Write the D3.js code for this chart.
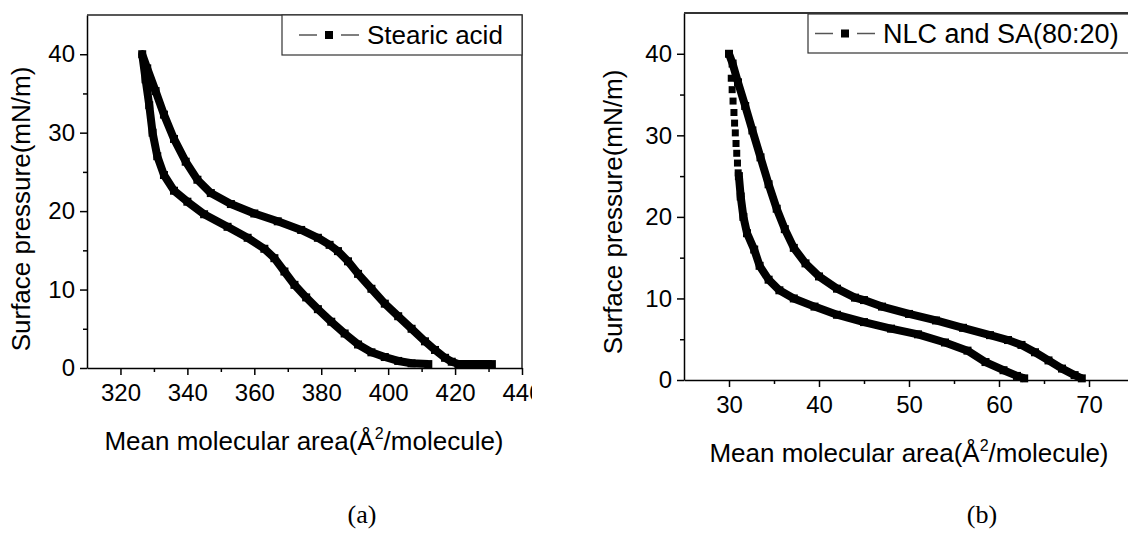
<!DOCTYPE html>
<html>
<head>
<meta charset="utf-8">
<script src="https://cdnjs.cloudflare.com/ajax/libs/d3/7.8.5/d3.min.js"></script>
<style>
  body { margin: 0; background: #fff; }
  svg { display: block; font-family: "Liberation Sans", Arial, sans-serif; }
</style>
</head>
<body>
<svg id="chart" width="1128" height="537"></svg>
<script>
// (a) stearic acid isotherm, one loop: flat start -> outer branch up -> inner branch down
var saArea = [431, 425, 421, 419, 417, 414, 411, 407, 403, 399, 395, 391, 388, 385, 382.5, 379, 374, 367, 360, 353, 347, 343, 339.5, 336, 333, 330.5, 328, 326.5,
              327.5, 328.6, 329.6, 331, 333, 336, 340, 345, 352, 358, 363, 366, 369, 372, 375.5, 379, 383, 387, 391, 395, 399, 403, 407, 412];
var saPi   = [0.5, 0.5, 0.5, 0.8, 1.3, 2.3, 3.4, 5.0, 6.6, 8.2, 10.1, 12.0, 13.6, 14.9, 15.7, 16.6, 17.6, 18.7, 19.7, 20.9, 22.3, 24.0, 26.3, 29.2, 32.3, 35.3, 38.2, 40.0,
              36.8, 33.5, 30.0, 27.0, 24.6, 22.6, 21.2, 19.6, 18.0, 16.6, 15.2, 14.0, 12.3, 10.6, 9.0, 7.5, 5.9, 4.4, 3.0, 2.0, 1.4, 0.9, 0.6, 0.5];

// (b) NLC and SA (80:20): outer branch, loose squares near the top, inner branch
var nlcOutArea = [69.2, 68.4, 67, 65.5, 64, 62.5, 61, 59, 56, 53, 50, 47, 45, 44, 42, 40, 38.5, 37.2, 36.2, 35.3, 34.4, 33.5, 32.6, 31.8, 31, 30.4, 30.0];
var nlcOutPi   = [0.2, 0.6, 1.4, 2.4, 3.4, 4.3, 4.9, 5.5, 6.4, 7.3, 8.1, 9.0, 9.8, 10.1, 11.2, 12.7, 14.3, 16.2, 18.5, 21.0, 24.0, 27.3, 30.6, 33.6, 36.5, 38.8, 40.0];
var nlcTopArea = [30.25, 30.35, 30.45, 30.55, 30.62, 30.7, 30.78, 30.86, 30.94, 31.02];
var nlcTopPi   = [37.0, 35.6, 34.2, 32.8, 31.5, 30.3, 29.0, 27.8, 26.6, 25.4];
var nlcInArea  = [31.1, 31.3, 31.6, 32.0, 32.8, 33.4, 34.4, 35.6, 37.2, 39.5, 42, 45, 48, 51, 54, 56.5, 58.5, 60.5, 62, 62.8];
var nlcInPi    = [25.0, 22.5, 20.0, 18.0, 16.0, 14.0, 12.3, 11.0, 10.0, 9.0, 8.0, 7.1, 6.3, 5.6, 4.6, 3.6, 2.2, 1.2, 0.5, 0.2];

var xTicksA = [320, 340, 360, 380, 400, 420, 440];
var xMinorA = [330, 350, 370, 390, 410, 430];
var xTicksB = [30, 40, 50, 60, 70];
var xMinorB = [35, 45, 55, 65];
var yTicks  = [0, 10, 20, 30, 40];
var yMinor  = [5, 15, 25, 35];

var svg = d3.select("#chart");

svg.append("clipPath").attr("id", "clipA")
  .append("rect").attr("x", 0).attr("y", 0).attr("width", 532).attr("height", 537);

function zip(a, b) { return a.map(function(v, i) { return [v, b[i]]; }); }

function drawAxes(g, x, y, xt, xm) {
  var h = y.range()[0];
  var l = x.range()[0];

  g.append("g").attr("transform", "translate(0," + h + ")")
    .call(d3.axisBottom(x).tickValues(xt).tickSize(7).tickPadding(9).tickSizeOuter(0));
  g.append("g").attr("transform", "translate(0," + h + ")")
    .call(d3.axisBottom(x).tickValues(xm).tickSize(4).tickFormat("").tickSizeOuter(0))
    .select(".domain").remove();

  g.append("g").attr("transform", "translate(" + l + ",0)")
    .call(d3.axisLeft(y).tickValues(yTicks).tickSize(7).tickPadding(5).tickSizeOuter(0));
  g.append("g").attr("transform", "translate(" + l + ",0)")
    .call(d3.axisLeft(y).tickValues(yMinor).tickSize(4).tickFormat("").tickSizeOuter(0))
    .select(".domain").remove();

  g.selectAll(".tick text").attr("font-size", 24).attr("fill", "#000")
    .attr("font-family", "Liberation Sans, Arial, sans-serif");
  g.selectAll(".tick line, .domain").attr("stroke", "#000").attr("stroke-width", 1.5);
}

function drawCurve(g, x, y, pts, squaresOnly) {
  if (!squaresOnly) {
    g.append("path")
      .datum(pts)
      .attr("fill", "none")
      .attr("stroke", "#000")
      .attr("stroke-width", 8)
      .attr("stroke-linejoin", "round")
      .attr("d", d3.line().x(function(d) { return x(d[0]); }).y(function(d) { return y(d[1]); }));
  }
  var s = squaresOnly ? 7 : 8;
  g.selectAll(null).data(pts).enter().append("rect")
    .attr("x", function(d) { return x(d[0]) - s / 2; })
    .attr("y", function(d) { return y(d[1]) - s / 2; })
    .attr("width", s).attr("height", s)
    .attr("fill", "#000");
}

// pad = gap between box edge and the first dash
function drawLegend(g, x0, y0, w, h, pad, fs, label) {
  g.append("rect").attr("x", x0).attr("y", y0).attr("width", w).attr("height", h)
    .attr("fill", "#fff").attr("stroke", "#333").attr("stroke-width", 1.2);
  var cy = y0 + h / 2;
  var sx = x0 + pad;
  g.append("line").attr("x1", sx).attr("x2", sx + 18).attr("y1", cy).attr("y2", cy)
    .attr("stroke", "#555").attr("stroke-width", 1.5);
  g.append("line").attr("x1", sx + 42).attr("x2", sx + 60).attr("y1", cy).attr("y2", cy)
    .attr("stroke", "#555").attr("stroke-width", 1.5);
  g.append("rect").attr("x", sx + 26).attr("y", cy - 4).attr("width", 8).attr("height", 8).attr("fill", "#000");
  g.append("text").attr("x", sx + 68).attr("y", cy + 9).attr("font-size", fs).text(label);
}

function xTitle(g, cx, by) {
  var t = g.append("text").attr("x", cx).attr("y", by).attr("text-anchor", "middle").attr("font-size", 26);
  t.append("tspan").text("Mean molecular area(\u00C5");
  t.append("tspan").attr("font-size", 16).attr("dy", -11).text("2");
  t.append("tspan").attr("dy", 11).text("/molecule)");
}

function yTitle(g, bx, cy) {
  g.append("text").attr("transform", "translate(" + bx + "," + cy + ") rotate(-90)")
    .attr("text-anchor", "middle").attr("font-size", 26).text("Surface pressure(mN/m)");
}

// ---- panel (a)
var xA = d3.scaleLinear().domain([310, 440]).range([87, 522]);
var yA = d3.scaleLinear().domain([0, 45]).range([368, 15]);
var gA = svg.append("g").attr("clip-path", "url(#clipA)");

drawCurve(gA, xA, yA, zip(saArea, saPi), false);
drawAxes(gA, xA, yA, xTicksA, xMinorA);
// top and right frame
gA.append("path").attr("d", "M" + xA(310) + "," + yA(45) + "H" + xA(440) + "V" + yA(0))
  .attr("fill", "none").attr("stroke", "#222").attr("stroke-width", 1.5);
drawLegend(gA, 282, 15, 240, 40, 17, 26, "Stearic acid");
xTitle(gA, 304, 450);
yTitle(gA, 29.5, 209);

// ---- panel (b)
var xB = d3.scaleLinear().domain([25, 75]).range([684, 1134]);
var yB = d3.scaleLinear().domain([0, 45]).range([380, 13]);
var gB = svg.append("g");

drawCurve(gB, xB, yB, zip(nlcOutArea, nlcOutPi), false);
drawCurve(gB, xB, yB, zip(nlcInArea, nlcInPi), false);
drawCurve(gB, xB, yB, zip(nlcTopArea, nlcTopPi), true);
drawAxes(gB, xB, yB, xTicksB, xMinorB);
gB.append("path").attr("d", "M" + xB(25) + "," + yB(45) + "H" + xB(75))
  .attr("fill", "none").attr("stroke", "#333").attr("stroke-width", 2);
drawLegend(gB, 808, 14, 340, 39, 7, 27, "NLC and SA(80:20)");
xTitle(gB, 909, 462);
yTitle(gB, 622, 212);

// panel captions
svg.append("text").attr("x", 362).attr("y", 523).attr("text-anchor", "middle")
  .attr("font-family", "Liberation Serif, Times New Roman, serif").attr("font-size", 26).text("(a)");
svg.append("text").attr("x", 982).attr("y", 523).attr("text-anchor", "middle")
  .attr("font-family", "Liberation Serif, Times New Roman, serif").attr("font-size", 26).text("(b)");
</script>
</body>
</html>
